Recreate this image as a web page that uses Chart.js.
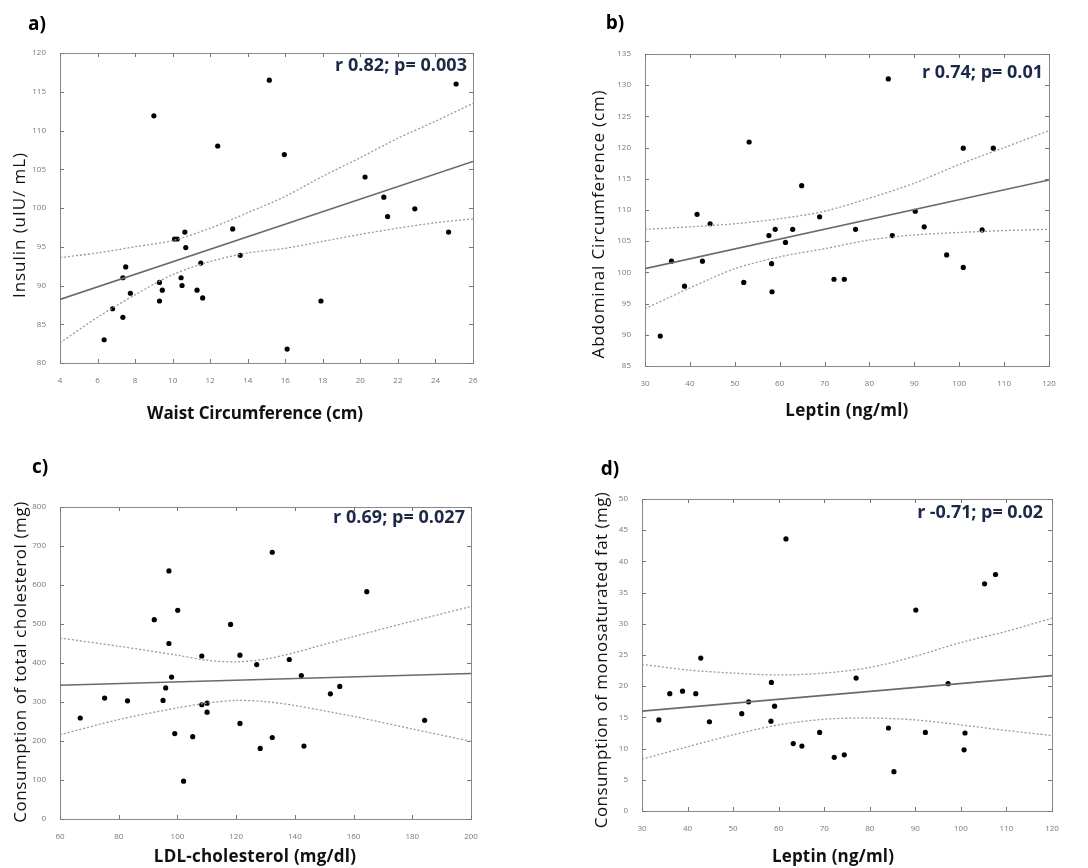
<!DOCTYPE html>
<html>
<head>
<meta charset="utf-8">
<script src="https://cdn.jsdelivr.net/npm/chart.js@4"></script>
<style>
  body { margin: 0; background: #fff; }
  #wrap { position: relative; width: 1088px; height: 868px; }
  #wrap canvas { position: absolute; }
</style>
</head>
<body>
<div id="wrap">
  <canvas id="pa" width="544" height="434" style="left:0;top:0"></canvas>
  <canvas id="pb" width="544" height="434" style="left:544px;top:0"></canvas>
  <canvas id="pc" width="544" height="434" style="left:0;top:434px"></canvas>
  <canvas id="pd" width="544" height="434" style="left:544px;top:434px"></canvas>
</div>
<script>
// a) waist vs insulin
const aWaist = [6.35, 6.8, 7.35, 7.35, 7.5, 7.75, 9.0, 9.3, 9.3, 9.45, 10.1, 10.25, 10.65, 10.7, 10.45, 10.5, 11.3, 11.5, 11.6, 12.4, 13.2, 13.6, 15.15, 15.95, 16.1, 17.9, 20.25, 21.25, 21.45, 22.9, 24.7, 25.1];
const aInsulin = [83, 87, 85.9, 91, 92.4, 89, 111.9, 90.4, 88, 89.4, 96, 96, 96.9, 94.9, 91, 90, 89.4, 92.9, 88.4, 108, 97.3, 93.9, 116.5, 106.9, 81.8, 88, 104, 101.4, 98.9, 99.9, 96.9, 116];
const aFitX = [4, 26];
const aFitY = [88.2, 106.0];
const aBandX = [4, 6, 8, 10, 12, 14, 16, 18, 20, 22, 24, 26];
const aUpper = [93.6, 94.2, 95.0, 95.8, 97.4, 99.4, 101.5, 104.1, 106.5, 109.0, 111.2, 113.5];
const aLower = [82.6, 85.9, 88.8, 91.4, 93.1, 94.2, 94.8, 95.7, 96.6, 97.4, 98.1, 98.6];

// b) leptin vs abdominal circumference
const bLeptin = [33.4, 35.9, 38.8, 41.6, 42.8, 44.5, 52, 53.2, 57.6, 59.0, 58.2, 58.3, 61.3, 62.9, 64.9, 68.9, 72.1, 74.4, 76.9, 84.2, 85.1, 90.2, 92.2, 97.2, 100.9, 100.9, 105.1, 107.6];
const bAbdominal = [89.8, 101.8, 97.8, 109.3, 101.8, 107.8, 98.4, 120.9, 105.9, 106.9, 101.4, 96.9, 104.8, 106.9, 113.9, 108.9, 98.9, 98.9, 106.9, 131, 105.9, 109.8, 107.3, 102.8, 119.9, 100.8, 106.8, 119.9];
const bFitX = [30, 120];
const bFitY = [100.6, 114.8];
const bBandX = [30, 40, 50, 60, 70, 80, 90, 100, 110, 120];
const bUpper = [106.9, 107.3, 107.8, 108.6, 109.8, 111.9, 114.3, 117.3, 120.0, 122.7];
const bLower = [94.2, 97.5, 100.6, 102.5, 103.8, 105.2, 106.0, 106.4, 106.7, 106.9];

// c) LDL vs total cholesterol intake
const cLdl = [66.9, 75.2, 83, 92.1, 95.1, 96, 97.1, 97.1, 98, 99.1, 100.1, 102.1, 105.2, 108.3, 108.3, 110.1, 110.1, 118.1, 121.3, 121.3, 127, 128.2, 132.3, 132.3, 138.1, 142.2, 143.1, 152.1, 155.3, 164.5, 184.2];
const cChol = [259, 310, 303, 511, 304, 336, 450, 636, 364, 219, 535, 97, 211, 418, 293, 297, 274, 499, 420, 245, 396, 181, 684, 209, 409, 368, 187, 321, 340, 583, 253];
const cFitX = [60, 200];
const cFitY = [343, 373];
const cBandX = [60, 80, 100, 110, 120, 130, 140, 160, 180, 200];
const cUpper = [464, 443, 420, 407, 403, 410, 427, 468, 507, 545];
const cLower = [216, 255, 285, 297, 304, 301, 291, 263, 231, 199];

// d) leptin vs monounsaturated fat intake
const dLeptin = [33.7, 36.1, 38.9, 41.8, 42.9, 44.8, 51.9, 53.4, 58.4, 58.3, 59.1, 61.6, 63.2, 65.1, 69, 72.2, 74.4, 77, 84.1, 85.3, 90.1, 92.2, 97.2, 100.9, 100.7, 105.2, 107.6];
const dFat = [14.6, 18.8, 19.2, 18.8, 24.5, 14.3, 15.6, 17.5, 20.6, 14.4, 16.8, 43.6, 10.8, 10.4, 12.6, 8.6, 9.0, 21.3, 13.3, 6.3, 32.2, 12.6, 20.4, 12.5, 9.8, 36.4, 37.9];
const dFitX = [30, 120];
const dFitY = [16.0, 21.7];
const dBandX = [30, 40, 50, 60, 70, 80, 90, 100, 110, 120];
const dUpper = [23.5, 22.6, 22.1, 21.8, 22.1, 23.0, 24.8, 27.0, 28.8, 30.9];
const dLower = [8.3, 10.3, 12.2, 13.8, 14.7, 14.9, 14.6, 13.8, 12.9, 12.1];

const FONT = "'Open Sans', 'DejaVu Sans', sans-serif";

const pts = (xs, ys) => xs.map((x, i) => ({x: x, y: ys[i]}));

// draw text spread (or squeezed) to a given length, like the original figure
function fitText(ctx, text, x, y, len) {
  ctx.letterSpacing = '0px';
  const w = ctx.measureText(text).width;
  const sp = (len - w) / Math.max(1, text.length - 1);
  ctx.letterSpacing = sp.toFixed(2) + 'px';
  ctx.fillText(text, x, y);
  ctx.letterSpacing = '0px';
}

// frame, inward ticks and all the texts of one panel
const panelDecor = {
  id: 'panelDecor',
  beforeDatasetsDraw(chart, args, o) {
    const {ctx, chartArea: a} = chart;
    ctx.save();
    ctx.strokeStyle = '#8a8a8a';
    ctx.lineWidth = 1;
    ctx.strokeRect(Math.round(a.left) + 0.5, Math.round(a.top) + 0.5,
      Math.round(a.right - a.left), Math.round(a.bottom - a.top));
    const {x, y} = chart.scales;
    ctx.strokeStyle = '#777';
    ctx.beginPath();
    x.ticks.forEach(t => {
      const px = Math.round(x.getPixelForValue(t.value)) + 0.5;
      ctx.moveTo(px, a.bottom); ctx.lineTo(px, a.bottom - 4);
      ctx.moveTo(px, a.top); ctx.lineTo(px, a.top + 4);
    });
    y.ticks.forEach(t => {
      const py = Math.round(y.getPixelForValue(t.value)) + 0.5;
      ctx.moveTo(a.left, py); ctx.lineTo(a.left + 4, py);
      ctx.moveTo(a.right, py); ctx.lineTo(a.right - 4, py);
    });
    ctx.stroke();
    ctx.restore();
  },
  afterDraw(chart, args, o) {
    const {ctx, chartArea: a} = chart;
    ctx.save();
    ctx.textBaseline = 'middle';
    ctx.fillStyle = '#000';
    ctx.textAlign = 'center';
    ctx.font = 'bold 19px ' + FONT;
    ctx.fillText(o.letter, o.lx, o.ly);
    ctx.font = 'bold 17px ' + FONT;
    ctx.fillStyle = '#111';
    fitText(ctx, o.xTitle, o.xtx, o.xty, o.xLen);
    ctx.save();
    ctx.translate(o.ytx, o.yty);
    ctx.rotate(-Math.PI / 2);
    ctx.font = '17px ' + FONT;
    fitText(ctx, o.yTitle, 0, 0, o.yLen);
    ctx.restore();
    ctx.textAlign = 'right';
    ctx.fillStyle = '#1c2a47';
    ctx.font = 'bold 18px ' + FONT;
    fitText(ctx, o.note, a.right + o.ndx, a.top + o.ndy, o.nLen);
    ctx.restore();
  }
};

function makePanel(id, xs, ys, fitX, fitY, bandX, upper, lower, ax, decor) {
  new Chart(id, {
    type: 'scatter',
    data: {
      datasets: [
        {data: pts(bandX, upper), showLine: true, pointRadius: 0, borderColor: '#9a9a9a', borderWidth: 1.3, borderDash: [2, 2], tension: 0.3},
        {data: pts(bandX, lower), showLine: true, pointRadius: 0, borderColor: '#9a9a9a', borderWidth: 1.3, borderDash: [2, 2], tension: 0.3},
        {data: pts(fitX, fitY), showLine: true, pointRadius: 0, borderColor: '#6a6a6a', borderWidth: 1.6},
        {data: pts(xs, ys), pointRadius: 2.6, pointBackgroundColor: '#000', pointBorderColor: '#000', pointBorderWidth: 0}
      ]
    },
    options: {
      responsive: false,
      animation: false,
      layout: { padding: { top: ax.padTop, right: ax.padRight, left: 0, bottom: 0 } },
      plugins: {
        legend: { display: false },
        tooltip: { enabled: false },
        panelDecor: decor
      },
      scales: {
        x: {
          type: 'linear', min: ax.xMin, max: ax.xMax,
          afterFit: s => { s.height = ax.xH; },
          grid: { display: false },
          border: { display: false },
          ticks: { stepSize: ax.xStep, padding: 5, color: '#777', font: { size: 8, family: FONT } }
        },
        y: {
          type: 'linear', min: ax.yMin, max: ax.yMax,
          afterFit: s => { s.width = ax.yW; },
          grid: { display: false },
          border: { display: false },
          ticks: { stepSize: ax.yStep, padding: 6, color: '#777', font: { size: 8, family: FONT } }
        }
      }
    },
    plugins: [panelDecor]
  });
}

makePanel('pa', aWaist, aInsulin, aFitX, aFitY, aBandX, aUpper, aLower,
  {xMin: 4, xMax: 26, xStep: 2, yMin: 80, yMax: 120, yStep: 5, padTop: 53, padRight: 71, yW: 60, xH: 71},
  {letter: 'a)', lx: 37, ly: 25, note: 'r 0.82; p= 0.003', ndx: -6, ndy: 13, nLen: 132,
   xTitle: 'Waist Circumference (cm)', xtx: 255, xty: 414, xLen: 216,
   yTitle: 'Insulin (uIU/ mL)', ytx: 20, yty: 225, yLen: 145});

makePanel('pb', bLeptin, bAbdominal, bFitX, bFitY, bBandX, bUpper, bLower,
  {xMin: 30, xMax: 120, xStep: 10, yMin: 85, yMax: 135, yStep: 5, padTop: 54, padRight: 39, yW: 101, xH: 68},
  {letter: 'b)', lx: 71, ly: 24, note: 'r 0.74; p= 0.01', ndx: -6, ndy: 19, nLen: 121,
   xTitle: 'Leptin (ng/ml)', xtx: 303, xty: 411, xLen: 123,
   yTitle: 'Abdominal Circumference (cm)', ytx: 55, yty: 224, yLen: 268});

makePanel('pc', cLdl, cChol, cFitX, cFitY, cBandX, cUpper, cLower,
  {xMin: 60, xMax: 200, xStep: 20, yMin: 0, yMax: 800, yStep: 100, padTop: 73, padRight: 73, yW: 60, xH: 49},
  {letter: 'c)', lx: 40, ly: 34, note: 'r 0.69; p= 0.027', ndx: -6, ndy: 11, nLen: 132,
   xTitle: 'LDL-cholesterol (mg/dl)', xtx: 255, xty: 423, xLen: 202,
   yTitle: 'Consumption of total cholesterol (mg)', ytx: 21, yty: 228, yLen: 321});

makePanel('pd', dLeptin, dFat, dFitX, dFitY, dBandX, dUpper, dLower,
  {xMin: 30, xMax: 120, xStep: 10, yMin: 0, yMax: 50, yStep: 5, padTop: 65, padRight: 36, yW: 98, xH: 57},
  {letter: 'd)', lx: 66, ly: 36, note: 'r -0.71; p= 0.02', ndx: -9, ndy: 14, nLen: 126,
   xTitle: 'Leptin (ng/ml)', xtx: 289, xty: 423, xLen: 122,
   yTitle: 'Consumption of monosaturated fat (mg)', ytx: 58, yty: 226, yLen: 336});
</script>
</body>
</html>
